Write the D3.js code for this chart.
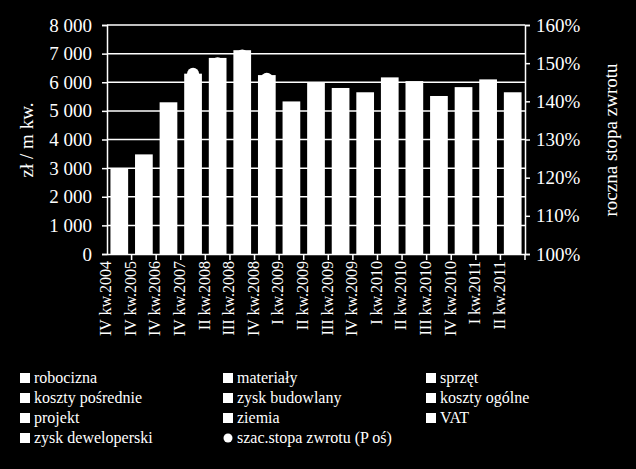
<!DOCTYPE html>
<html><head><meta charset="utf-8">
<script src="https://cdn.jsdelivr.net/npm/d3@7"></script>
<style>body{margin:0;background:#000}svg text{font-family:"Liberation Serif","DejaVu Serif",serif !important}</style>
</head><body><div id="container"></div>
<script>
var categories = ["IV kw.2004","IV kw.2005","IV kw.2006","IV kw.2007","II kw.2008","III kw.2008","IV kw.2008","I kw.2009","II kw.2009","III kw.2009","IV kw.2009","I kw.2010","II kw.2010","III kw.2010","IV kw.2010","I kw.2011","II kw.2011"];
var totals = [3000,3480,5300,6300,6850,7120,6250,5330,6000,5800,5650,6170,6040,5520,5830,6100,5650];
var rates = [120,124,136,147.2,150,152,145.9,137,141,140,139,142,141,138,140,142,139];
var legendItems = ["robocizna","materiały","sprzęt","koszty pośrednie","zysk budowlany","koszty ogólne","projekt","ziemia","VAT","zysk deweloperski","szac.stopa zwrotu (P oś)"];
var leftTicks = [0,1000,2000,3000,4000,5000,6000,7000,8000];
var rightTicks = [100,110,120,130,140,150,160];

var width = 636, height = 469;
var m = {left:107, right:525, top:25, bottom:254};

var svg = d3.select("#container").append("svg")
  .attr("width", width).attr("height", height);
svg.append("rect").attr("width", width).attr("height", height).attr("fill", "#000");

var x = d3.scaleBand().domain(categories).range([m.left, m.right]).paddingInner(0.28).paddingOuter(0.14);
var y = d3.scaleLinear().domain([0, 8000]).range([m.bottom, m.top]);
var y2 = d3.scaleLinear().domain([100, 160]).range([m.bottom, m.top]);

// gridlines
svg.append("g").selectAll("line").data(leftTicks.slice(1)).enter().append("line")
  .attr("x1", m.left).attr("x2", m.right)
  .attr("y1", function(d) { return y(d); }).attr("y2", function(d) { return y(d); })
  .attr("stroke", "#fff").attr("stroke-width", 1.5);

// rate points (behind bars)
svg.append("g").selectAll("circle").data(rates).enter().append("circle")
  .attr("cx", function(d, i) { return x(categories[i]) + x.bandwidth()/2; })
  .attr("cy", function(d) { return y2(d); })
  .attr("r", 6).attr("fill", "#fff");

svg.append("g").selectAll("rect").data(totals).enter().append("rect")
  .attr("x", function(d, i) { return x(categories[i]); })
  .attr("y", function(d) { return y(d); })
  .attr("width", x.bandwidth())
  .attr("height", function(d) { return m.bottom - y(d); })
  .attr("fill", "#fff");

var fmt = function(d) { return d3.format(",")(d).replace(",", " "); };
var ax = svg.append("g").attr("transform", "translate(" + m.left + ",0)")
  .call(d3.axisLeft(y).tickValues(leftTicks).tickFormat(fmt).tickSize(5).tickPadding(10));
var ax2 = svg.append("g").attr("transform", "translate(" + m.right + ",0)")
  .call(d3.axisRight(y2).tickValues(rightTicks).tickFormat(function(d) { return d + "%"; }).tickSize(5).tickPadding(6));
var axb = svg.append("g").attr("transform", "translate(0," + m.bottom + ")")
  .call(d3.axisBottom(x).tickSize(0));
axb.selectAll(".tick line").remove();
axb.selectAll(".tick").append("line").attr("x1", x.step()/2).attr("x2", x.step()/2).attr("y2", 6).attr("stroke", "#fff");
axb.selectAll("text").attr("transform", "rotate(-90)").attr("x", -7).attr("y", -8)
  .attr("dy", 0).style("text-anchor", "end");

[ax, ax2, axb].forEach(function(a) {
  a.attr("font-family", null);
  a.selectAll("path,line").attr("stroke", "#fff").attr("stroke-width", 1.5);
  a.selectAll("text").attr("fill", "#fff").style("font-size", "19px");
});
axb.selectAll("text").style("font-size", "16px");

svg.append("text").attr("transform", "translate(33,140) rotate(-90)")
  .attr("text-anchor", "middle").attr("fill", "#fff").style("font-size", "19px").text("zł / m kw.");
svg.append("text").attr("transform", "translate(617,140) rotate(-90)")
  .attr("text-anchor", "middle").attr("fill", "#fff").style("font-size", "19px").text("roczna stopa zwrotu");

var lg = svg.append("g").selectAll("g").data(legendItems).enter().append("g")
  .attr("transform", function(d, i) { return "translate(" + (20 + (i % 3) * 203) + "," + (378 + Math.floor(i / 3) * 20) + ")"; });
lg.each(function(d, i) {
  var g = d3.select(this);
  if (i === legendItems.length - 1) g.append("circle").attr("cx", 5).attr("cy", 0).attr("r", 4.5).attr("fill", "#fff");
  else g.append("rect").attr("x", 0).attr("y", -5).attr("width", 10).attr("height", 10).attr("fill", "#fff");
});
lg.append("text").attr("x", 14).attr("y", 5).attr("fill", "#fff").style("font-size", "16px").text(function(d) { return d; });
</script></body></html>
